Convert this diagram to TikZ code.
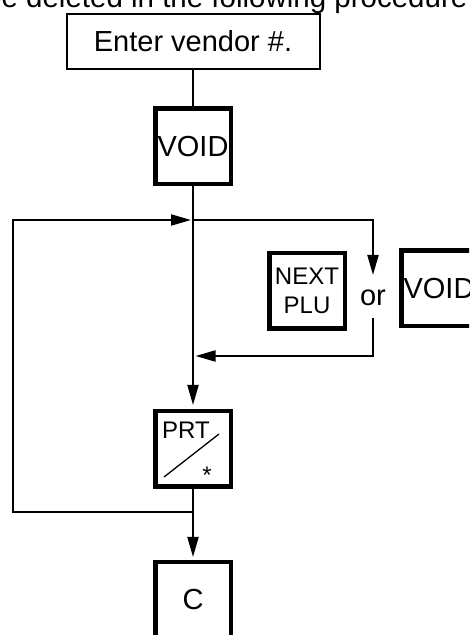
\documentclass[tikz,border=0pt]{standalone}
\usepackage{fontspec}
\setmainfont{Liberation Sans}
\usetikzlibrary{arrows.meta}

\begin{document}
\begin{tikzpicture}[x=1pt,y=1pt, every node/.style={font=\fontsize{29}{34}\selectfont, inner sep=0pt},
    keybox/.style={draw, line width=4.5pt, minimum width=75.5pt, minimum height=75.5pt},
    flow/.style={line width=2pt, -{Triangle[length=20pt,width=11pt]}},
    wire/.style={line width=2pt}]
  \useasboundingbox (0,0) rectangle (469,635);
  \clip (0,0) rectangle (469,635);
  \node[anchor=base west, font=\fontsize{29.5}{34}\selectfont] (intro) at (-15,627) {be deleted in the following procedure};
  \node[draw, line width=2pt, minimum width=253pt, minimum height=55pt] (enter) at (193,593.5) {Enter vendor \#.};
  \node[keybox] (void) at (193,488.5) {VOID};
  \node[keybox, font=\fontsize{24}{29}\selectfont, align=center] (next) at (307,344) {NEXT\\PLU};
  \node (or) at (373,337.5) {or};
  \node[keybox] (voidb) at (439,346.5) {VOID};
  \node[keybox] (prt) at (193,186) {};
  \node[anchor=base west, font=\fontsize{24}{29}\selectfont] (prtlabel) at (162,196) {PRT};
  \node[anchor=base, font=\fontsize{24}{29}\selectfont] (prtstar) at (207,151) {*};
  \draw[line width=1.3pt] ([shift={(-29,-28)}]prt.center) -- ([shift={(26,15)}]prt.center);
  \node[keybox] (clear) at (193,35) {C};
  \coordinate (split) at (193,415);
  \coordinate (loopjoin) at (191,415);
  \coordinate (loopbot) at (193,123);
  \coordinate (loopleft) at (13,123);
  \coordinate (orin) at (373,360);
  \coordinate (orout) at (373,317);
  \coordinate (mergejoin) at (195.5,279);
  \draw[wire] (enter) -- (void);
  \draw[flow, shorten >=4pt] (void) -- (prt);
  \draw[flow] (split) -| (orin);
  \draw[flow] (orout) |- (mergejoin);
  \draw[flow] (loopbot) -- (loopleft) |- (loopjoin);
  \draw[flow, shorten >=3pt] (prt) -- (clear);
\end{tikzpicture}
\end{document}
